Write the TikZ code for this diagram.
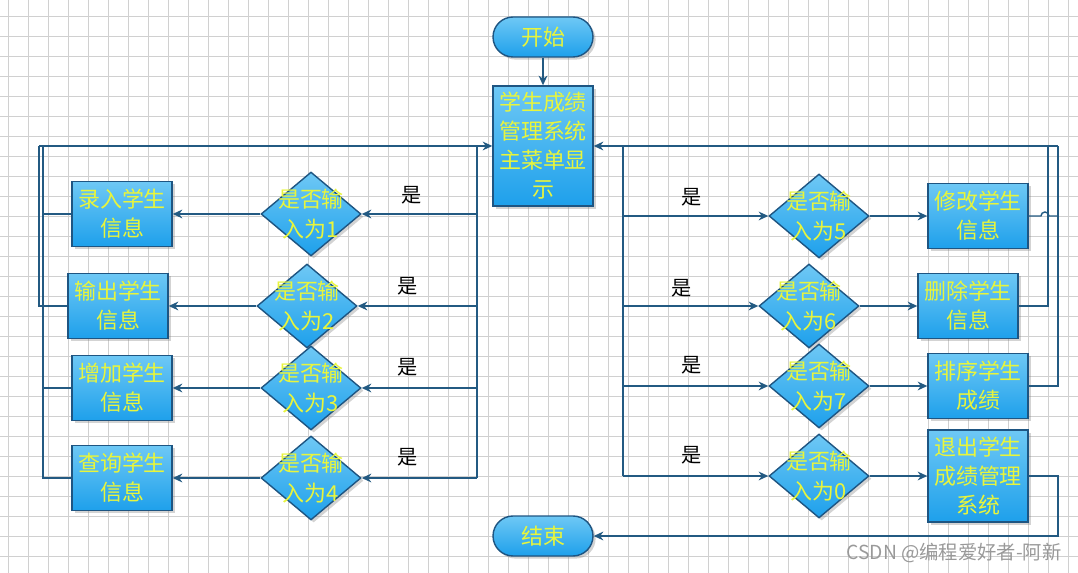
\documentclass[tikz,border=0pt]{standalone}
\usepackage{fontspec}
\setmainfont{Noto Sans CJK SC}
\usepackage{xcolor}
\usetikzlibrary{arrows.meta, shapes.geometric, shadows}
\definecolor{flowline}{RGB}{35, 90, 130}
\definecolor{boxedge}{RGB}{30, 85, 130}
\definecolor{boxtop}{RGB}{110, 200, 245}
\definecolor{boxbot}{RGB}{30, 160, 235}
\definecolor{boxtext}{RGB}{232, 245, 60}
\definecolor{gridgray}{RGB}{208, 208, 208}

\begin{document}
\begin{tikzpicture}[
    x=0.02cm, y=-0.02cm,
    >={Stealth[length=5.5pt, width=5pt]},
    gridline/.style={gridgray, line width=0.5pt},
    procbox/.style={rectangle, draw=boxedge, line width=0.8pt, top color=boxtop, bottom color=boxbot, minimum width=2cm, minimum height=#1, align=center, text=boxtext, font=\fontsize{12.5}{16.5}\selectfont, inner sep=1pt, drop shadow={shadow xshift=1.5pt, shadow yshift=-1.5pt, opacity=0.35, fill=gray}},
    procbox/.default=1.3cm,
    terminal/.style={procbox=0.8cm, rounded corners=0.4cm},
    decide/.style={diamond, draw=boxedge, line width=0.8pt, top color=boxtop, bottom color=boxbot, minimum width=2cm, minimum height=1.68cm, inner sep=0pt, drop shadow={shadow xshift=1.5pt, shadow yshift=-1.5pt, opacity=0.35, fill=gray}},
    dtext/.style={text=boxtext, align=center, font=\fontsize{12.5}{17}\selectfont},
    flow/.style={->, flowline, line width=0.8pt},
    link/.style={flowline, line width=0.8pt},
    yes/.style={font=\fontsize{11.5}{14}\selectfont},
    wmark/.style={text=gray!80, font=\fontsize{11}{13}\selectfont}
  ]

  \useasboundingbox (0,0) rectangle (1078,573);

  % Grid
  \foreach \gx in {8,28,...,1068} \draw[gridline] (\gx,0) -- (\gx,573);
  \foreach \gy in {16,36,...,556} \draw[gridline] (0,\gy) -- (1078,\gy);

  % Nodes
  \node[terminal] (start) at (543,37) {开始};
  \node[procbox=2.4cm] (menu) at (543,146) {学生成绩\\管理系统\\主菜单显\\示};
  \node[terminal] (finish) at (543,536) {结束};

  % Left branch
  \node[decide, label={[dtext]center:是否输\\入为1}] (d1) at (311,214) {};
  \node[decide, label={[dtext]center:是否输\\入为2}] (d2) at (307,306) {};
  \node[decide, label={[dtext]center:是否输\\入为3}] (d3) at (311,388) {};
  \node[decide, label={[dtext]center:是否输\\入为4}] (d4) at (311,478) {};
  \node[procbox] (b1) at (122,214) {录入学生\\信息};
  \node[procbox] (b2) at (118,306) {输出学生\\信息};
  \node[procbox] (b3) at (122,388) {增加学生\\信息};
  \node[procbox] (b4) at (122,478) {查询学生\\信息};

  % Right branch
  \node[decide, label={[dtext]center:是否输\\入为5}] (d5) at (819,216) {};
  \node[decide, label={[dtext]center:是否输\\入为6}] (d6) at (809,306) {};
  \node[decide, label={[dtext]center:是否输\\入为7}] (d7) at (819,386) {};
  \node[decide, label={[dtext]center:是否输\\入为0}] (d0) at (819,476) {};
  \node[procbox] (b5) at (978,216) {修改学生\\信息};
  \node[procbox] (b6) at (968,306) {删除学生\\信息};
  \node[procbox] (b7) at (978,386) {排序学生\\成绩};
  \node[procbox=1.84cm] (b0) at (978,476) {退出学生\\成绩管理\\系统};

  % Turning points
  \coordinate (ltrunk) at (477,146);
  \coordinate (rtrunk) at (623,146);
  \coordinate (lloopout) at (39,146);
  \coordinate (lloopin) at (43,146);
  \coordinate (rloopin) at (1048,146);
  \coordinate (rloopout) at (1058,146);
  \coordinate (exitturn) at (1058,536);

  % Yes labels
  \node[yes] (y1) at (412,195) {是};
  \node[yes] (y2) at (408,286) {是};
  \node[yes] (y3) at (408,367) {是};
  \node[yes] (y4) at (408,457) {是};
  \node[yes] (y5) at (692,197) {是};
  \node[yes] (y6) at (682,288) {是};
  \node[yes] (y7) at (692,365) {是};
  \node[yes] (y0) at (692,455) {是};

  % Flow
  \draw[flow] (start) -- (menu);

  \draw[link] (ltrunk) -- (ltrunk |- d4);
  \foreach \k in {1,2,3,4} {
    \draw[flow] (ltrunk |- d\k) -- (d\k.east);
    \draw[flow] (d\k.west) -- (b\k.east);
  }
  \draw[link] (rtrunk) -- (rtrunk |- d0);
  \foreach \k in {5,6,7,0} {
    \draw[flow] (rtrunk |- d\k) -- (d\k.west);
    \draw[flow] (d\k.east) -- (b\k.west);
  }

  % Back to menu
  \draw[flow] (lloopout) -- (menu.west);
  \draw[link] (b2.west) -| (lloopout);
  \draw[link] (b1.west) -| (lloopin);
  \draw[link] (b3.west) -| (lloopin);
  \draw[link] (b4.west) -| (lloopin);

  \draw[flow] (rloopout) -- (menu.east);
  \draw[link] (b6.east) -| (rloopin);
  \draw[link] (b7.east) -| (rloopout);
  \draw[link] (b5.east) -- ([xshift=-4]rloopin |- b5) arc[start angle=180, end angle=360, radius=4] -- (rloopout |- b5);

  \draw[flow] (b0.east) -| (exitturn) -- (finish.east);

  \node[wmark] (csdn) at (954,553) {CSDN @编程爱好者-阿新};

\end{tikzpicture}
\end{document}
